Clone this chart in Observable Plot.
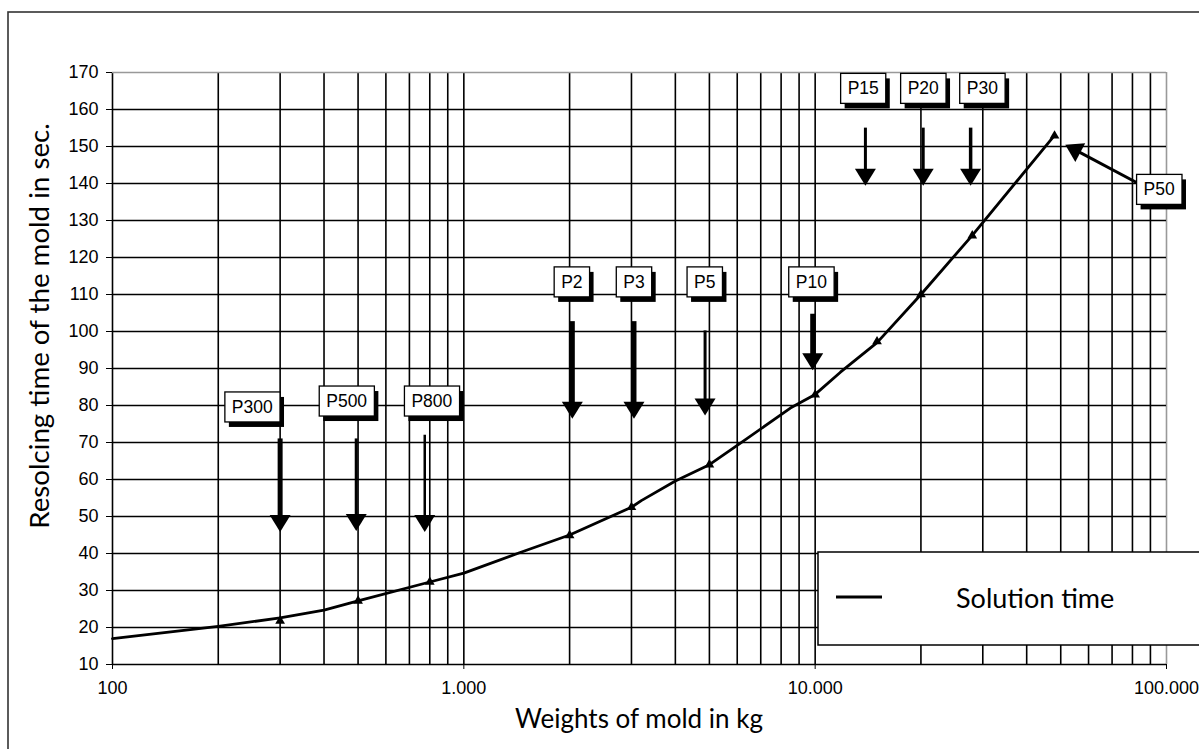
<!DOCTYPE html>
<html><head><meta charset="utf-8">
<script src="https://cdn.jsdelivr.net/npm/d3@7"></script>
<script src="https://cdn.jsdelivr.net/npm/@observablehq/plot@0.6"></script>
<style>
body{margin:0;background:#fff;overflow:hidden;}
</style></head><body><div id="chart"></div>
<script>
// ---- Data ----
const curveWeights = [100, 200, 300, 400, 500, 800, 1000, 1440, 2000, 3000, 3200, 4000, 5000, 6100, 8500, 10000, 11800, 15000, 20000, 28000, 48000];
const curveTimes   = [17, 20.3, 22.6, 24.7, 27.2, 32.3, 34.7, 40.2, 45, 52.5, 54.3, 59.6, 64, 69.7, 79.3, 83, 89, 97, 110, 126, 153];

const markerWeights = [300, 500, 800, 2000, 3000, 5000, 10000, 15000, 20000, 28000, 48000];
const markerTimes   = [21.8, 27.2, 32.3, 44.9, 52.5, 64, 82.9, 97.3, 110, 125.9, 152.9];

const labelNames = ["P300", "P500", "P800", "P2", "P3", "P5", "P10", "P15", "P20", "P30", "P50"];
const labelX     = [250, 464, 811, 2030, 3050, 4850, 9750, 13700, 20300, 29900, 95300];
const labelY     = [79.5, 81.1, 81.1, 113.3, 113.3, 113.3, 113.3, 165.6, 165.6, 165.6, 138.3];

const arrowFromX = [300, 494, 774, 2036, 3050, 4860, 9840, 13900, 20300, 27700, 82400];
const arrowFromY = [71.1, 71.1, 72.1, 102.8, 102.8, 100.3, 104.8, 155.1, 155.1, 155.1, 140.2];
const arrowToX   = [300, 494, 774, 2036, 3050, 4860, 9840, 13900, 20300, 27700, 51500];
const arrowToY   = [45.8, 46.1, 45.8, 76.4, 76.4, 77.3, 89.5, 139.4, 139.4, 139.4, 150.5];

const xTickValues = [100, 1000, 10000, 100000];
const yTickValues = d3.range(10, 171, 10);

const xTitle = "Weights of mold in kg";
const yTitle = "Resolcing time of the mold in sec.";
const legendLabel = "Solution time";

// ---- styles ----
const shaftWidths = [5, 3, 2.5, 5, 5, 3, 5, 3, 3, 3.5, 3];
const W = 1199, H = 749, ML = 112, MR = 33, MT = 72, MB = 85;

const curve = curveWeights.map((w, i) => ({w, t: curveTimes[i]}));
const markers = markerWeights.map((w, i) => ({w, t: markerTimes[i]}));
const labels = labelNames.map((n, i) => ({n, x: labelX[i], y: labelY[i]}));

const gridX = [];
for (let k = 100; k < 100000; k *= 10) for (let m = 1; m <= 9; m++) gridX.push(k * m);
const fmt = d => d3.format(",")(d).replace(/,/g, ".");

// helper scales (same mapping as the plot) to orient arrowheads
const sx = d3.scaleLog().domain([100, 100000]).range([ML, W - MR]);
const sy = d3.scaleLinear().domain([10, 170]).range([H - MB, MT]);

const arrows = arrowFromX.map((fx, i) => {
  const px1 = sx(fx), py1 = sy(arrowFromY[i]), px2 = sx(arrowToX[i]), py2 = sy(arrowToY[i]);
  const len = Math.hypot(px2 - px1, py2 - py1);
  const ux = (px2 - px1) / len, uy = (py2 - py1) / len;
  return {
    x1: fx, y1: arrowFromY[i],
    x2: sx.invert(px2 - ux * 8), y2: sy.invert(py2 - uy * 8),
    tx: arrowToX[i], ty: arrowToY[i], ux, uy, sw: shaftWidths[i]
  };
});

function headSymbol(ux, uy, w, h) {
  return {
    draw(ctx) {
      const bx = -ux * h, by = -uy * h; // base center
      const qx = -uy * w / 2, qy = ux * w / 2;
      ctx.moveTo(0, 0);
      ctx.lineTo(bx + qx, by + qy);
      ctx.lineTo(bx - qx, by - qy);
      ctx.closePath();
    }
  };
}

const chart = Plot.plot({
  width: W, height: H,
  marginLeft: ML, marginRight: MR, marginTop: MT, marginBottom: MB,
  style: {fontFamily: "'Liberation Sans', Arial, sans-serif", fontSize: "18px", background: "white", color: "black"},
  x: {type: "log", domain: [100, 100000], ticks: xTickValues, tickFormat: fmt, tickSize: 5, tickPadding: 12, label: null},
  y: {domain: [10, 170], ticks: yTickValues, tickSize: 6, tickPadding: 8, label: null},
  marks: [
    Plot.ruleX(gridX, {stroke: "#000", strokeWidth: 1.6}),
    Plot.ruleX([100000], {stroke: "#999", strokeWidth: 1.6}),
    Plot.ruleY(yTickValues.filter(v => v < 170), {stroke: "#000", strokeWidth: 1.6}),
    Plot.ruleY([170], {stroke: "#999", strokeWidth: 1.6}),
    Plot.line(curve, {x: "w", y: "t", stroke: "#000", strokeWidth: 2.8}),
    Plot.dot(markers, {x: "w", y: "t", symbol: "triangle", r: 3.6, fill: "#000", stroke: "none"}),
    ...arrows.map(a => Plot.link([a], {x1: "x1", y1: "y1", x2: "x2", y2: "y2", stroke: "#000", strokeWidth: a.sw})),
    ...arrows.map(a => Plot.dot([a], {x: "tx", y: "ty", symbol: headSymbol(a.ux, a.uy, 21, 17), fill: "#000", stroke: "none"})),
    Plot.text(labels, {x: "x", y: "y", text: "n", fill: "#000", fontSize: 17.5, textAnchor: "middle"})
  ]
});

document.getElementById("chart").appendChild(chart);
const svgEl = chart.tagName.toLowerCase() === "svg" ? chart : chart.querySelector("svg");
const ns = "http://www.w3.org/2000/svg";
const svg = d3.select(svgEl);

// label boxes with drop shadows
const svgBox = svgEl.getBoundingClientRect();
const nameSet = new Set(labelNames);
const labelTexts = [...svgEl.querySelectorAll("text")].filter(t => nameSet.has(t.textContent));
if (labelTexts.length) {
  const g = labelTexts[0].parentNode;
  const boxG = document.createElementNS(ns, "g");
  g.parentNode.insertBefore(boxG, g);
  const bg = d3.select(boxG);
  labelTexts.forEach(t => {
    const r = t.getBoundingClientRect();
    const x = r.left - svgBox.left - 7, y = r.top - svgBox.top - 5;
    const w = r.width + 14, h = r.height + 10;
    bg.append("rect").attr("x", x + 4).attr("y", y + 5).attr("width", w).attr("height", h).attr("fill", "#000");
    bg.append("rect").attr("x", x).attr("y", y).attr("width", w).attr("height", h)
      .attr("fill", "#fff").attr("stroke", "#000").attr("stroke-width", 1.3);
  });
}

// outer frame
svg.append("rect").attr("x", 8).attr("y", 12).attr("width", W + 10).attr("height", H + 10)
  .attr("fill", "none").attr("stroke", "#333").attr("stroke-width", 1.6);

// axis titles
const titleFont = "Lato, 'Open Sans', sans-serif";
svg.append("text").attr("transform", "translate(38,326) rotate(-90)")
  .attr("text-anchor", "middle").attr("dominant-baseline", "central")
  .style("font-family", titleFont).style("font-size", "27.7px").attr("fill", "#000").text(yTitle);
svg.append("text").attr("x", (ML + W - MR) / 2).attr("y", 718)
  .attr("text-anchor", "middle").attr("dominant-baseline", "central")
  .style("font-family", titleFont).style("font-size", "26px").attr("fill", "#000").text(xTitle);

// legend
const lg = svg.append("g");
lg.append("rect").attr("x", 818).attr("y", 552).attr("width", 400).attr("height", 93)
  .attr("fill", "#fff").attr("stroke", "#000").attr("stroke-width", 1.5);
lg.append("line").attr("x1", 836).attr("x2", 882).attr("y1", 597).attr("y2", 597)
  .attr("stroke", "#000").attr("stroke-width", 3);
lg.append("text").attr("x", 956).attr("y", 597).attr("text-anchor", "start").attr("dominant-baseline", "central")
  .style("font-family", titleFont).style("font-size", "27px").attr("fill", "#000").text(legendLabel);
</script>
</body></html>
